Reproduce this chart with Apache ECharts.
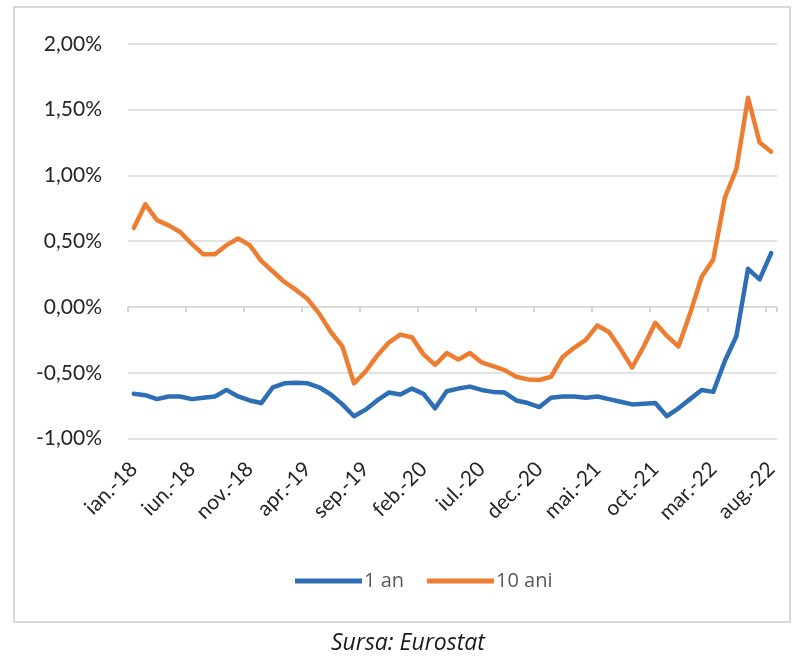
<!DOCTYPE html>
<html>
<head>
<meta charset="utf-8">
<script src="https://cdn.jsdelivr.net/npm/echarts@6/dist/echarts.min.js"></script>
<style>
html,body{margin:0;padding:0;background:#ffffff;}
#chart{width:797px;height:656px;}
</style>
</head>
<body>
<div id="chart"></div>
<script>
var monthNames = ['ian.', 'feb.', 'mar.', 'apr.', 'mai.', 'iun.', 'iul.', 'aug.', 'sep.', 'oct.', 'nov.', 'dec.'];
var years = ['18', '19', '20', '21', '22'];
var lastMonthIndex = 7; // aug.-22

var categories = [];
years.forEach(function (y, yi) {
  monthNames.forEach(function (m, mi) {
    if (yi === years.length - 1 && mi > lastMonthIndex) return;
    categories.push(m + '-' + y);
  });
});

var seriesNames = ['1 an', '10 ani'];

var an1 = [
  -0.66, -0.67, -0.70, -0.68, -0.68, -0.70, -0.69, -0.68, -0.63, -0.68, -0.71, -0.73,
  -0.61, -0.58, -0.575, -0.58, -0.61, -0.665, -0.74, -0.83, -0.78, -0.71, -0.65, -0.665,
  -0.62, -0.66, -0.77, -0.64, -0.62, -0.605, -0.63, -0.645, -0.65, -0.71, -0.73, -0.76,
  -0.69, -0.68, -0.68, -0.69, -0.68, -0.70, -0.72, -0.74, -0.735, -0.73, -0.83, -0.77,
  -0.70, -0.63, -0.645, -0.41, -0.22, 0.29, 0.21, 0.41
];

var ani10 = [
  0.60, 0.78, 0.66, 0.62, 0.57, 0.48, 0.40, 0.40, 0.47, 0.52, 0.47, 0.35,
  0.27, 0.19, 0.13, 0.06, -0.05, -0.19, -0.30, -0.58, -0.49, -0.37, -0.27, -0.21,
  -0.23, -0.36, -0.44, -0.35, -0.40, -0.35, -0.42, -0.45, -0.48, -0.53, -0.55, -0.555,
  -0.53, -0.38, -0.31, -0.25, -0.14, -0.19, -0.32, -0.46, -0.30, -0.12, -0.22, -0.30,
  -0.05, 0.23, 0.36, 0.83, 1.05, 1.59, 1.25, 1.18
];

var yTicks = { min: -1, max: 2, interval: 0.5 };
var sourceText = 'Sursa: Eurostat';

var chart = echarts.init(document.getElementById('chart'), null, { renderer: 'canvas' });
var fontFam = 'Lato, "Open Sans", sans-serif';
var wideFam = '"Open Sans", Lato, sans-serif';

chart.setOption({
  animation: false,
  backgroundColor: '#ffffff',
  graphic: [{
    type: 'rect',
    z: -10,
    shape: { x: 14, y: 7, width: 776, height: 615 },
    style: { fill: '#ffffff', stroke: '#d9d9d9', lineWidth: 2 }
  }],
  title: {
    text: sourceText,
    left: 326,
    top: 627,
    textStyle: { fontFamily: wideFam, fontStyle: 'italic', fontWeight: 'normal', fontSize: 23, color: '#1a1a1a' }
  },
  legend: {
    data: seriesNames,
    left: 290,
    top: 566,
    icon: 'rect',
    itemWidth: 67,
    itemHeight: 5,
    itemGap: 23,
    textStyle: { fontFamily: wideFam, fontSize: 20, color: '#595959', padding: [0, 0, 0, -3] }
  },
  grid: { left: 128, right: 20, top: 43.8, bottom: 217.4, containLabel: false },
  xAxis: [{
    type: 'category',
    data: categories,
    position: 'bottom',
    boundaryGap: true,
    axisLine: { show: false, onZero: false },
    axisTick: { show: false },
    splitLine: { show: false },
    axisLabel: {
      interval: 4,
      rotate: 45,
      margin: 27,
      fontFamily: fontFam,
      fontSize: 21,
      color: '#262626'
    }
  }, {
    type: 'category',
    data: categories,
    position: 'bottom',
    boundaryGap: true,
    axisLine: { show: true, onZero: true, lineStyle: { color: '#d9d9d9', width: 1.5 } },
    axisTick: { show: true, interval: 4, length: 5, lineStyle: { color: '#c8c8c8', width: 1.5 } },
    axisLabel: { show: false },
    splitLine: { show: false }
  }],
  yAxis: {
    type: 'value',
    min: yTicks.min,
    max: yTicks.max,
    interval: yTicks.interval,
    axisLine: { show: false },
    axisTick: { show: false },
    splitLine: { lineStyle: { color: '#d9d9d9', width: 1.5 } },
    axisLabel: {
      margin: 26,
      fontFamily: fontFam,
      fontSize: 21,
      color: '#262626',
      formatter: function (v) { return v.toFixed(2).replace('.', ',') + '%'; }
    }
  },
  series: [{
    name: seriesNames[0],
    type: 'line',
    xAxisIndex: 0,
    data: an1,
    symbol: 'none',
    color: '#2E6EB5',
    lineStyle: { width: 4.5, color: '#2E6EB5', cap: 'round', join: 'round' },
    z: 3
  }, {
    name: seriesNames[1],
    type: 'line',
    xAxisIndex: 0,
    data: ani10,
    symbol: 'none',
    color: '#ED7D31',
    lineStyle: { width: 4.5, color: '#ED7D31', cap: 'round', join: 'round' },
    z: 2
  }]
});
</script>
</body>
</html>
